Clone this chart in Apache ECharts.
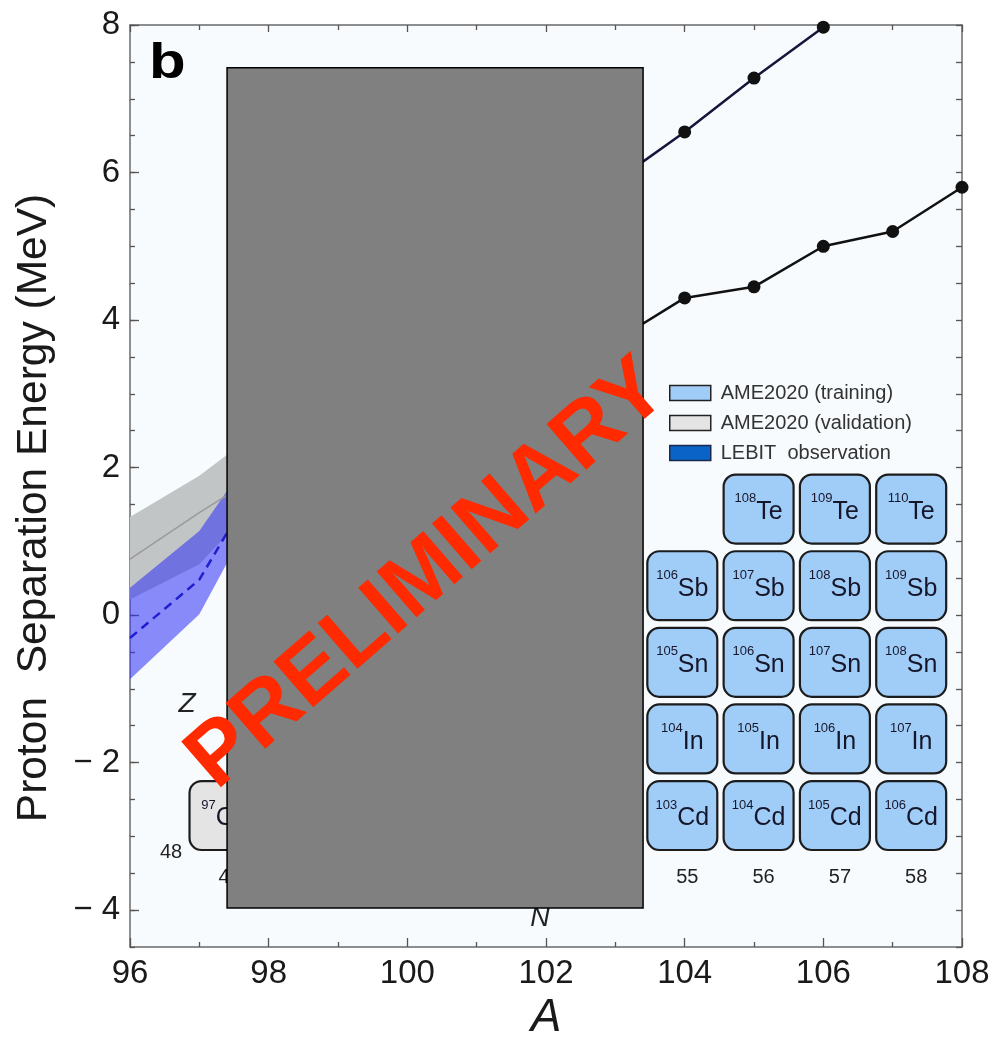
<!DOCTYPE html>
<html>
<head>
<meta charset="utf-8">
<script src="https://cdn.jsdelivr.net/npm/echarts@6/dist/echarts.min.js"></script>
<style>
html,body{margin:0;padding:0;background:#fff;}
#c{width:998px;height:1037px;}
</style>
</head>
<body>
<div id="c"></div>
<script>
// ---- main plot data (A vs proton separation energy, MeV) ----
const xTicks = [96, 98, 100, 102, 104, 106, 108];
const yTicks = [-4, -2, 0, 2, 4, 6, 8];

const upperA = [103, 104, 105, 106];
const upperE = [5.88, 6.55, 7.28, 7.97];
const lowerA = [103, 104, 105, 106, 107, 108];
const lowerE = [3.72, 4.30, 4.45, 5.00, 5.20, 5.80];

const bandA   = [96, 97, 98];
const grayLo  = [0.21, 0.69, 1.70];
const grayHi  = [1.33, 1.89, 2.60];
const grayMid = [0.76, 1.39, 1.98];
const blueLo  = [-0.87, 0.01, 1.75];
const blueHi  = [0.37, 1.14, 2.50];
const blueMid = [-0.31, 0.48, 2.07];

// occluding placeholder box (data units)
const boxA = [97.4, 103.4];
const boxE = [-3.97, 7.42];

// ---- inset nuclide chart (N vs Z) ----
const elementByZ = {48: 'Cd', 49: 'In', 50: 'Sn', 51: 'Sb', 52: 'Te'};
const trainN = [56, 57, 58, 55, 56, 57, 58, 55, 56, 57, 58, 55, 56, 57, 58, 55, 56, 57, 58];
const trainZ = [52, 52, 52, 51, 51, 51, 51, 50, 50, 50, 50, 49, 49, 49, 49, 48, 48, 48, 48];
const trainMass = [108, 109, 110, 106, 107, 108, 109, 105, 106, 107, 108, 104, 105, 106, 107, 103, 104, 105, 106];
const validN = [49];
const validZ = [48];
const validMass = [97];
const nLabels = [49, 50, 51, 52, 53, 54, 55, 56, 57, 58];

const FONT = "'Liberation Sans', Arial, Helvetica, sans-serif";

function bandRender(lo, hi, fill) {
  return function (params, api) {
    if (params.dataIndex !== 0) return null;
    const top = bandA.map((a, i) => api.coord([a, hi[i]]));
    const bot = bandA.map((a, i) => api.coord([a, lo[i]])).reverse();
    return {type: 'polygon', shape: {points: top.concat(bot)}, style: {fill: fill}};
  };
}

function cellRender(massArr, fill) {
  return function (params, api) {
    const N = api.value(0), Z = api.value(1);
    const c = api.coord([N, Z]);
    const s = api.size([1, 1]);
    const w = s[0] * 0.917, h = s[1] * 0.90;
    const txt = '{m|' + massArr[params.dataIndex] + '}{s|' + elementByZ[Z] + '}';
    return {
      type: 'group',
      children: [
        {type: 'rect', shape: {x: c[0] - w / 2, y: c[1] - h / 2, width: w, height: h, r: 12},
         style: {fill: fill, stroke: '#1c1c1c', lineWidth: 2.2}},
        {type: 'text', x: c[0], y: c[1] + 3,
         style: {text: txt, align: 'center', verticalAlign: 'middle', fontFamily: FONT,
           rich: {
             m: {fontSize: 13, fill: '#16162a', verticalAlign: 'top', lineHeight: 14, fontFamily: FONT},
             s: {fontSize: 25, fill: '#16162a', lineHeight: 40, fontFamily: FONT}
           }}}
      ]
    };
  };
}

const yFmt = v => (v < 0 ? '\u2212 ' + Math.abs(v) : String(v));
const axisLineStyle = {color: '#6a6a6a', width: 1.5};
const tickStyle = {color: '#555', width: 1.3};

const chart = echarts.init(document.getElementById('c'));
chart.setOption({
  animation: false,
  backgroundColor: '#ffffff',
  grid: [
    {left: 130, right: 36, top: 25, bottom: 90, show: true, backgroundColor: '#f7fbfd', borderWidth: 0,
     containLabel: false, outerBoundsMode: 'none'},
    {left: 148.2, right: 10.5, top: 432.5, bottom: 175.5, show: false, containLabel: false, outerBoundsMode: 'none'}
  ],
  xAxis: [
    {type: 'value', gridIndex: 0, position: 'bottom', min: 96, max: 108, interval: 2,
     axisLine: {show: true, onZero: false, lineStyle: axisLineStyle},
     axisTick: {inside: true, length: 9, lineStyle: tickStyle},
     minorTick: {show: true, splitNumber: 2, length: 5, lineStyle: tickStyle},
     axisLabel: {fontSize: 33, color: '#1a1a1a', margin: 10, fontFamily: FONT},
     splitLine: {show: false},
     name: 'A', nameLocation: 'middle', nameGap: 37,
     nameTextStyle: {fontSize: 46, fontStyle: 'italic', color: '#1a1a1a', fontFamily: FONT}},
    {type: 'value', gridIndex: 0, position: 'top', min: 96, max: 108, interval: 2,
     axisLine: {show: true, onZero: false, lineStyle: axisLineStyle},
     axisTick: {inside: true, length: 7, lineStyle: tickStyle},
     minorTick: {show: true, splitNumber: 2, length: 5, lineStyle: tickStyle},
     axisLabel: {show: false}, splitLine: {show: false}},
    {type: 'value', gridIndex: 1, min: 48, max: 59, interval: 1,
     axisLine: {show: false}, axisTick: {show: false}, splitLine: {show: false},
     axisLabel: {fontSize: 20, color: '#222', margin: 6, fontFamily: FONT, padding: [0, 0, 0, 10],
       formatter: v => (nLabels.indexOf(v) >= 0 ? String(v) : '')}}
  ],
  yAxis: [
    {type: 'value', gridIndex: 0, position: 'left', min: -4.5, max: 8,
     axisLine: {show: true, onZero: false, lineStyle: axisLineStyle},
     axisTick: {inside: true, length: 9, lineStyle: tickStyle, customValues: yTicks},
     axisLabel: {fontSize: 33, color: '#1a1a1a', margin: 10, fontFamily: FONT, customValues: yTicks, formatter: yFmt},
     splitLine: {show: false},
     name: 'Proton  Separation Energy (MeV)', nameLocation: 'middle', nameRotate: 90, nameGap: 74,
     nameTextStyle: {fontSize: 42.5, color: '#1a1a1a', fontFamily: FONT, padding: [0, 44, 0, 0]}},
    {type: 'value', gridIndex: 0, position: 'left', min: -4.5, max: 8, interval: 0.5,
     axisLine: {show: false}, axisTick: {inside: true, length: 5, lineStyle: tickStyle},
     axisLabel: {show: false}, splitLine: {show: false}},
    {type: 'value', gridIndex: 0, position: 'right', min: -4.5, max: 8, interval: 0.5,
     axisLine: {show: true, onZero: false, lineStyle: axisLineStyle},
     axisTick: {inside: true, length: 6, lineStyle: tickStyle},
     axisLabel: {show: false}, splitLine: {show: false}},
    {type: 'value', gridIndex: 1, min: 47.4, max: 53, show: false}
  ],
  legend: {
    orient: 'vertical', left: 669, top: 383, padding: 0, itemWidth: 41, itemHeight: 15, itemGap: 10,
    selectedMode: false,
    textStyle: {fontSize: 20, color: '#333', fontFamily: FONT, padding: [0, 0, 0, 5]},
    data: [
      {name: 'AME2020 (training)', icon: 'rect', itemStyle: {color: '#a0cdf8', borderColor: '#222', borderWidth: 1.5}},
      {name: 'AME2020 (validation)', icon: 'rect', itemStyle: {color: '#e4e4e4', borderColor: '#222', borderWidth: 1.5}},
      {name: 'LEBIT  observation', icon: 'rect', itemStyle: {color: '#0a64c8', borderColor: '#1a2a4a', borderWidth: 1.5}}
    ]
  },
  series: [
    {type: 'custom', name: 'grayBand', xAxisIndex: 0, yAxisIndex: 0, z: 2, silent: true,
     renderItem: bandRender(grayLo, grayHi, '#c2c5c5'),
     data: bandA.map((a, i) => [a, grayLo[i], grayHi[i]]), encode: {x: 0, y: [1, 2]}},
    {type: 'custom', name: 'blueBand', xAxisIndex: 0, yAxisIndex: 0, z: 3, silent: true,
     renderItem: bandRender(blueLo, blueHi, 'rgba(45,45,245,0.55)'),
     data: bandA.map((a, i) => [a, blueLo[i], blueHi[i]]), encode: {x: 0, y: [1, 2]}},
    {type: 'line', name: 'grayMid', xAxisIndex: 0, yAxisIndex: 0, z: 4, symbol: 'none', silent: true,
     lineStyle: {color: '#9a9a9a', width: 1.5},
     data: bandA.map((a, i) => [a, grayMid[i]])},
    {type: 'line', name: 'blueMid', xAxisIndex: 0, yAxisIndex: 0, z: 4, symbol: 'none', silent: true,
     lineStyle: {color: '#1f1fd0', width: 2.5, type: [9, 6]},
     data: bandA.map((a, i) => [a, blueMid[i]])},
    {type: 'line', name: 'upper', xAxisIndex: 0, yAxisIndex: 0, z: 5, symbol: 'circle', symbolSize: 13,
     itemStyle: {color: '#111'}, lineStyle: {color: '#16163c', width: 2.5},
     data: upperA.map((a, i) => [a, upperE[i]])},
    {type: 'line', name: 'lower', xAxisIndex: 0, yAxisIndex: 0, z: 5, symbol: 'circle', symbolSize: 13,
     itemStyle: {color: '#111'}, lineStyle: {color: '#111', width: 2.5},
     data: lowerA.map((a, i) => [a, lowerE[i]])},
    {type: 'custom', name: 'AME2020 (training)', xAxisIndex: 2, yAxisIndex: 3, z: 6,
     itemStyle: {color: '#a0cdf8'},
     renderItem: cellRender(trainMass, '#a0cdf8'),
     data: trainN.map((n, i) => [n, trainZ[i]]), encode: {x: 0, y: 1}},
    {type: 'custom', name: 'AME2020 (validation)', xAxisIndex: 2, yAxisIndex: 3, z: 6,
     itemStyle: {color: '#e4e4e4'},
     renderItem: cellRender(validMass, '#e4e4e4'),
     data: validN.map((n, i) => [n, validZ[i]]), encode: {x: 0, y: 1}},
    {type: 'custom', name: 'LEBIT  observation', xAxisIndex: 2, yAxisIndex: 3, z: 6,
     itemStyle: {color: '#0a64c8'},
     renderItem: cellRender([], '#0a64c8'), data: []},
    {type: 'line', name: 'box', xAxisIndex: 0, yAxisIndex: 0, z: 20, data: [], silent: true,
     markArea: {silent: true, z: 20, label: {show: false},
       itemStyle: {color: '#808080', borderColor: '#000', borderWidth: 1.5, opacity: 1},
       data: [[{coord: [boxA[0], boxE[1]]}, {coord: [boxA[1], boxE[0]]}]]}}
  ],
  graphic: [
    {type: 'text', x: 149, y: 64, z: 50, scaleX: 1.2,
     style: {text: 'b', fontSize: 50, fontWeight: 'bold', fontFamily: FONT, fill: '#000', align: 'left', verticalAlign: 'middle'}},
    {type: 'text', x: 187, y: 704, z: 5,
     style: {text: 'Z', fontSize: 28, fontStyle: 'italic', fontFamily: FONT, fill: '#222', align: 'center', verticalAlign: 'middle'}},
    {type: 'text', x: 540, y: 918, z: 5,
     style: {text: 'N', fontSize: 27, fontStyle: 'italic', fontFamily: FONT, fill: '#222', align: 'center', verticalAlign: 'middle'}},
    {type: 'text', x: 171, y: 852, z: 5,
     style: {text: '48', fontSize: 20, fontFamily: FONT, fill: '#222', align: 'center', verticalAlign: 'middle'}},
    {type: 'text', x: 428, y: 575, z: 100, rotation: 41 * Math.PI / 180,
     style: {text: 'PRELIMINARY', fontSize: 88, fontWeight: 'bold', fontFamily: FONT, fill: '#ff2a00', align: 'center', verticalAlign: 'middle'}}
  ]
});
</script>
</body>
</html>
